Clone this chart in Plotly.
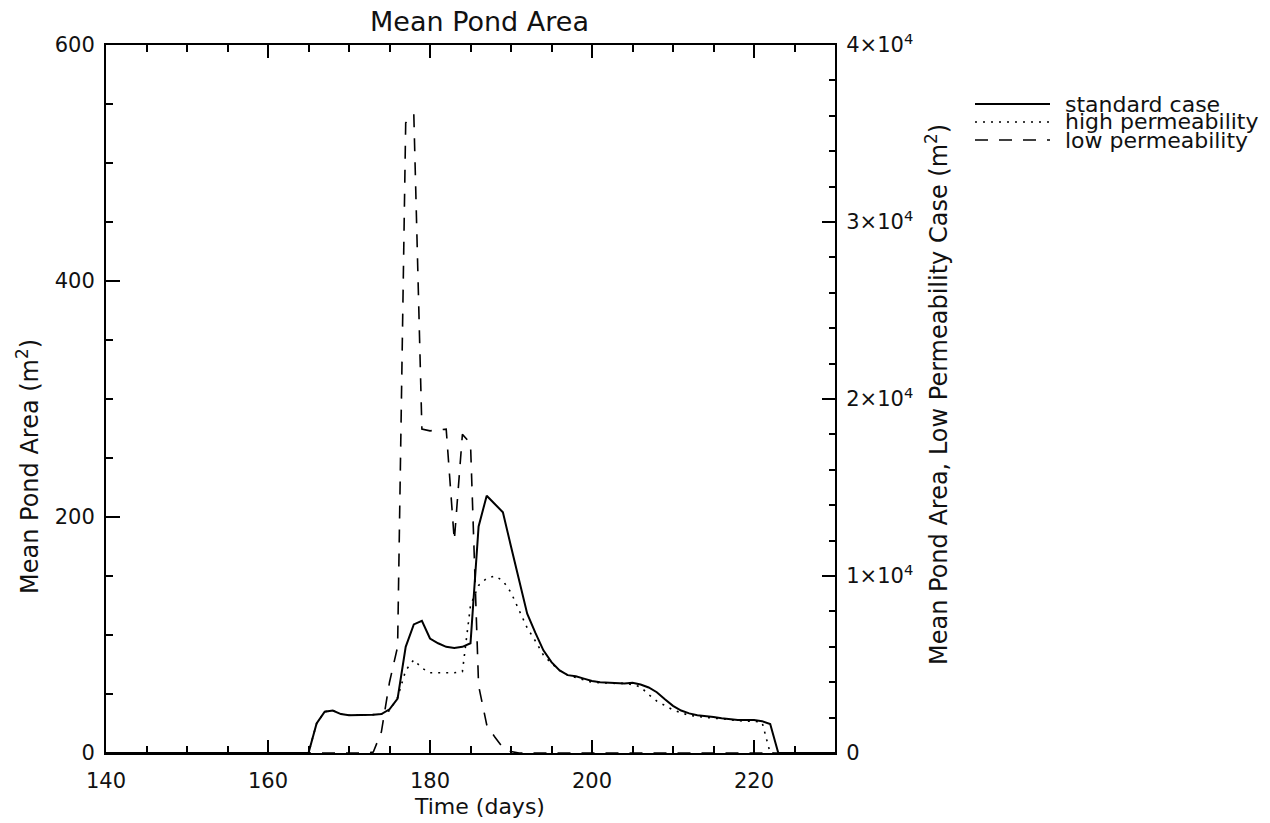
import plotly.graph_objects as go

# ---- data ----
days = list(range(140, 231))

standard_case = (
    [0] * 25 +  # 140-164
    [0, 25, 35, 36, 33, 32, 32, 32.5, 32.5, 33,          # 165-174
     37, 46, 90, 109, 112, 97, 93, 90, 89, 90,           # 175-184
     93, 192, 218, 211, 204, 175, 147, 118, 102, 87,     # 185-194
     77, 70, 66, 65, 63, 61, 60, 59.5, 59, 59,           # 195-204
     59.5, 58, 55.5, 51.5, 45.5, 40, 36, 33.6, 32, 31.4, # 205-214
     30.5, 29.5, 28.5, 28, 28, 28, 27, 24.5, 0] +        # 215-223
    [0] * 7  # 224-230
)

high_permeability = (
    [0] * 25 +
    [0, 25, 35, 36, 33, 32, 32, 32.5, 32.5, 33,
     36, 47, 70, 79, 72, 68, 68, 68, 68, 69,
     125, 142, 148, 150, 146, 136, 121, 106, 95, 83,
     76, 70, 66, 64, 62, 60, 59.5, 59, 59, 59,
     58, 56, 49.5, 44, 40, 36.5, 34, 32, 31, 30,
     29.5, 29, 28, 27.5, 27, 27, 26, 0, 0] +
    [0] * 7
)

low_permeability = (
    [0] * 32 +  # 140-171
    [0, 50, 1200, 4000, 6000, 35600, 36100, 18300, 18200, 18250,   # 172-181
     18300, 12000, 18000, 17500, 3800, 1600, 900, 300, 80, 0] +     # 182-191
    [0] * 39   # 192-230
)

legend_labels = ["standard case", "high permeability", "low permeability"]
left_ticks = [0, 200, 400, 600]
right_ticks = [0, 10000, 20000, 30000, 40000]
right_ticktext = ["0", "1×10<sup>4</sup>", "2×10<sup>4</sup>", "3×10<sup>4</sup>", "4×10<sup>4</sup>"]
x_ticks = [140, 160, 180, 200, 220]

FONT = "DejaVu Sans"
INK = "#111111"

fig = go.Figure()
fig.add_trace(go.Scatter(x=days, y=standard_case, mode="lines",
                         line=dict(color="black", width=2), name=legend_labels[0],
                         showlegend=False))
fig.add_trace(go.Scatter(x=days, y=high_permeability, mode="lines",
                         line=dict(color="black", width=1.6, dash="2px,6px"),
                         name=legend_labels[1], showlegend=False))
fig.add_trace(go.Scatter(x=days, y=low_permeability, mode="lines", yaxis="y2",
                         line=dict(color="black", width=1.6, dash="13px,11px"),
                         name=legend_labels[2], showlegend=False))

axis_common = dict(showline=True, linecolor="black", linewidth=2, showgrid=False,
                   zeroline=False, ticks="inside", tickcolor="black",
                   tickfont=dict(family=FONT, size=21, color=INK))

fig.update_layout(
    width=1270, height=823,
    margin=dict(l=106, r=435, t=45, b=70),
    paper_bgcolor="white", plot_bgcolor="white",
    showlegend=False,
    xaxis=dict(range=[140, 230], tickvals=x_ticks, ticklen=13, tickwidth=1.5,
               mirror="ticks", ticklabelstandoff=8,
               minor=dict(dtick=5, tick0=140, ticklen=7, ticks="inside",
                          tickcolor="black", tickwidth=1.5),
               **axis_common),
    yaxis=dict(range=[0, 600], tickvals=left_ticks, ticklen=14, tickwidth=1.5,
               ticklabelstandoff=5,
               minor=dict(dtick=50, tick0=0, ticklen=7, ticks="inside",
                          tickcolor="black", tickwidth=1.5),
               **axis_common),
    yaxis2=dict(range=[0, 40000], overlaying="y", side="right",
                tickvals=right_ticks, ticktext=right_ticktext, ticklen=13, tickwidth=1.5,
                ticklabelstandoff=5,
                minor=dict(dtick=2000, tick0=0, ticklen=6, ticks="inside",
                           tickcolor="black", tickwidth=1.5),
                **axis_common),
)

# titles as annotations
def px_to_paper_x(px):
    return (px - 106) / 729.0

def px_to_paper_y(py):
    return (753 - py) / 708.0

def label(text, px, py, size, angle=0, xanchor="center"):
    fig.add_annotation(text=text, x=px_to_paper_x(px), y=px_to_paper_y(py),
                       xref="paper", yref="paper", showarrow=False, borderpad=0,
                       xanchor=xanchor, yanchor="middle", textangle=angle,
                       font=dict(family=FONT, size=size, color=INK))

label("Mean Pond Area", 479, 22, 27)
label("Time (days)", 479, 806, 22)
label("Mean Pond Area (m<sup>2</sup>)", 28, 467, 24, angle=-90)
label("Mean Pond Area, Low Permeability Case (m<sup>2</sup>)", 937, 395, 24, angle=-90)

# legend drawn manually
legend_y = [104, 122, 140]
legend_dash = ["solid", "2px,6px", "13px,11px"]
legend_w = [2, 1.6, 1.6]
for lab, py, dsh, w in zip(legend_labels, legend_y, legend_dash, legend_w):
    fig.add_shape(type="line", xref="paper", yref="paper",
                  x0=px_to_paper_x(975), x1=px_to_paper_x(1050),
                  y0=px_to_paper_y(py), y1=px_to_paper_y(py),
                  line=dict(color="black", width=w, dash=dsh))
    label(lab, 1064, py, 22, xanchor="left")

fig.write_html("out.html")
